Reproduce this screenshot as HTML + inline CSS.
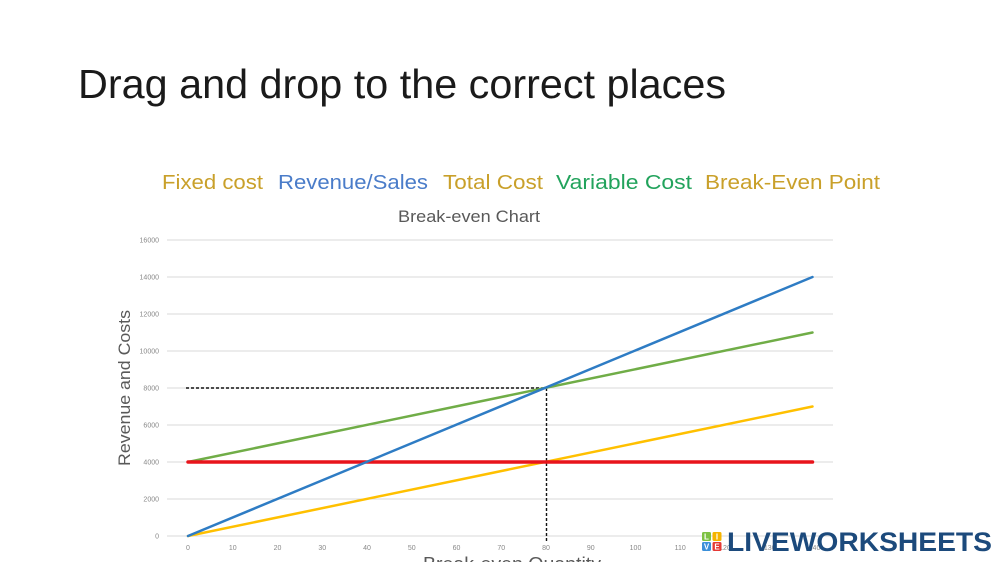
<!DOCTYPE html>
<html>
<head>
<meta charset="utf-8">
<style>
  html,body{margin:0;padding:0;background:#fff;}
  svg{display:block;}
  text{font-family:"Liberation Sans",sans-serif;}
</style>
</head>
<body>
<svg width="1000" height="562" viewBox="0 0 1000 562" xmlns="http://www.w3.org/2000/svg">
  <rect width="1000" height="562" fill="#fff"/>

  <!-- Page title -->
  <text x="78" y="98" font-size="41" fill="#1a1a1a" textLength="648" lengthAdjust="spacingAndGlyphs">Drag and drop to the correct places</text>

  <!-- Draggable labels -->
  <g font-size="20">
    <text x="162" y="189" fill="#c9a02a" textLength="101" lengthAdjust="spacingAndGlyphs">Fixed cost</text>
    <text x="278" y="189" fill="#4a7cc9" textLength="150" lengthAdjust="spacingAndGlyphs">Revenue/Sales</text>
    <text x="443" y="189" fill="#c9a02a" textLength="100" lengthAdjust="spacingAndGlyphs">Total Cost</text>
    <text x="556" y="189" fill="#22a35c" textLength="136" lengthAdjust="spacingAndGlyphs">Variable Cost</text>
    <text x="705" y="189" fill="#c9a02a" textLength="175" lengthAdjust="spacingAndGlyphs">Break-Even Point</text>
  </g>

  <!-- Chart title -->
  <text x="398" y="222" font-size="17" fill="#595959" textLength="142" lengthAdjust="spacingAndGlyphs">Break-even Chart</text>

  <!-- Gridlines -->
  <g stroke="#d9d9d9" stroke-width="1">
    <line x1="167" y1="240" x2="833" y2="240"/>
    <line x1="167" y1="277" x2="833" y2="277"/>
    <line x1="167" y1="314" x2="833" y2="314"/>
    <line x1="167" y1="351" x2="833" y2="351"/>
    <line x1="167" y1="388" x2="833" y2="388"/>
    <line x1="167" y1="425" x2="833" y2="425"/>
    <line x1="167" y1="462" x2="833" y2="462"/>
    <line x1="167" y1="499" x2="833" y2="499"/>
    <line x1="167" y1="536" x2="833" y2="536"/>
  </g>

  <!-- Y tick labels -->
  <g font-size="7" fill="#888" text-anchor="end">
    <text x="159" y="242.5">16000</text>
    <text x="159" y="279.5">14000</text>
    <text x="159" y="316.5">12000</text>
    <text x="159" y="353.5">10000</text>
    <text x="159" y="390.5">8000</text>
    <text x="159" y="427.5">6000</text>
    <text x="159" y="464.5">4000</text>
    <text x="159" y="501.5">2000</text>
    <text x="159" y="538.5">0</text>
  </g>

  <!-- X tick labels -->
  <g font-size="7" fill="#888" text-anchor="middle">
    <text x="188" y="550">0</text>
    <text x="232.75" y="550">10</text>
    <text x="277.5" y="550">20</text>
    <text x="322.25" y="550">30</text>
    <text x="367" y="550">40</text>
    <text x="411.75" y="550">50</text>
    <text x="456.5" y="550">60</text>
    <text x="501.25" y="550">70</text>
    <text x="546" y="550">80</text>
    <text x="590.75" y="550">90</text>
    <text x="635.5" y="550">100</text>
    <text x="680.25" y="550">110</text>
    <text x="725" y="550">120</text>
    <text x="769.75" y="550">130</text>
    <text x="814.5" y="550">140</text>
  </g>

  <!-- Axis titles -->
  <text transform="translate(130,388) rotate(-90)" font-size="17" fill="#595959" text-anchor="middle" textLength="156" lengthAdjust="spacingAndGlyphs">Revenue and Costs</text>
  <text x="423" y="570" font-size="18" fill="#595959" textLength="178" lengthAdjust="spacingAndGlyphs">Break-even Quantity</text>

  <!-- Dashed guides -->
  <g stroke="#111" stroke-width="1.4" stroke-dasharray="3,2" fill="none">
    <line x1="186" y1="388" x2="546" y2="388"/>
    <line x1="546.5" y1="388" x2="546.5" y2="541"/>
  </g>

  <!-- Series -->
  <g fill="none" stroke-linecap="round">
    <line x1="188" y1="536" x2="812.5" y2="406.5" stroke="#ffc000" stroke-width="2.5"/>
    <line x1="188" y1="462" x2="812.5" y2="332.5" stroke="#70ad47" stroke-width="2.5"/>
    <line x1="188" y1="462" x2="812.5" y2="462" stroke="#e8141b" stroke-width="3.5"/>
    <line x1="188" y1="536" x2="812.5" y2="277" stroke="#2e7cc4" stroke-width="2.5"/>
  </g>

  <!-- Watermark -->
  <g>
    <rect x="702" y="532" width="9" height="9" rx="1.5" fill="#7dc142"/>
    <rect x="712.5" y="532" width="9" height="9" rx="1.5" fill="#f5b400"/>
    <rect x="702" y="542" width="9" height="9" rx="1.5" fill="#3b8fd9"/>
    <rect x="712.5" y="542" width="9" height="9" rx="1.5" fill="#e53935"/>
    <g font-size="8" font-weight="bold" fill="#fff" text-anchor="middle">
      <text x="706.5" y="539.5">L</text>
      <text x="717" y="539.5">I</text>
      <text x="706.5" y="549.5">V</text>
      <text x="717" y="549.5">E</text>
    </g>
    <text x="727" y="551" font-size="27" font-weight="bold" fill="#1c4a7c" textLength="265" lengthAdjust="spacingAndGlyphs">LIVEWORKSHEETS</text>
  </g>
</svg>
</body>
</html>
